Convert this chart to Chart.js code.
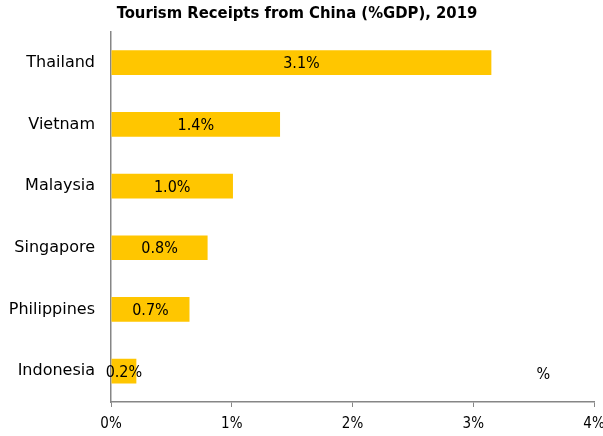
<!DOCTYPE html>
<html>
<head>
<meta charset="utf-8">
<script src="https://cdn.jsdelivr.net/npm/chart.js@4"></script>
<style>
  html, body { margin: 0; padding: 0; background: #fff; }
  #wrap { width: 603px; height: 436px; }
</style>
</head>
<body>
<div id="wrap"><canvas id="chart"></canvas></div>
<script>
// chart values
const countries = ["Thailand", "Vietnam", "Malaysia", "Singapore", "Philippines", "Indonesia"];
const receipts = [3.15, 1.4, 1.01, 0.8, 0.65, 0.21];
const shownLabels = ["3.1%", "1.4%", "1.0%", "0.8%", "0.7%", "0.2%"];
const tickValues = [0, 1, 2, 3, 4];

const NARROW = "'DejaVu Sans Condensed', 'DejaVu Sans', sans-serif";
const WIDE = "'DejaVu Sans', sans-serif";

// draws the value text in the middle of each bar, and the lone "%" note
const barText = {
  id: "barText",
  afterDatasetsDraw(chart) {
    const ctx = chart.ctx;
    const meta = chart.getDatasetMeta(0);
    ctx.save();
    ctx.font = "16px " + NARROW;
    ctx.fillStyle = "#000";
    ctx.textAlign = "center";
    ctx.textBaseline = "middle";
    meta.data.forEach(function(bar, i) {
      const mid = (bar.x + bar.base) / 2;
      ctx.fillText(shownLabels[i], mid, bar.y + 1.5);
    });
    const xs = chart.scales.x, ys = chart.scales.y;
    ctx.fillText("%", xs.getPixelForValue(3.58), ys.getPixelForValue(5) + 4);
    ctx.restore();
  }
};

new Chart(document.getElementById("chart"), {
  type: "bar",
  data: {
    labels: countries,
    datasets: [{
      data: receipts,
      backgroundColor: "#FFC600",
      borderWidth: 0,
      categoryPercentage: 1,
      barPercentage: 0.4
    }]
  },
  options: {
    indexAxis: "y",
    responsive: true,
    maintainAspectRatio: false,
    animation: false,
    layout: { padding: { left: 0, right: 9, top: 0, bottom: 0 } },
    plugins: {
      legend: { display: false },
      tooltip: { enabled: false },
      title: {
        display: true,
        text: "Tourism Receipts from China (%GDP), 2019",
        color: "#000",
        font: { family: NARROW, size: 16.5, weight: "bold" },
        padding: { top: 4, bottom: 8 }
      }
    },
    scales: {
      x: {
        min: 0,
        max: 4,
        afterBuildTicks(axis) {
          axis.ticks = tickValues.map(v => ({ value: v }));
        },
        afterFit(axis) {
          axis.height = 34;
          axis.paddingLeft = 0;
          axis.paddingRight = 0;
        },
        grid: {
          display: true,
          drawOnChartArea: false,
          drawTicks: true,
          tickLength: 5,
          color: "#868686"
        },
        border: { color: "#868686", width: 1.5 },
        ticks: {
          color: "#000",
          padding: 8,
          font: { family: NARROW, size: 15 },
          callback: v => v + "%"
        }
      },
      y: {
        afterFit(axis) { axis.width = 111; },
        grid: { display: false, drawTicks: false },
        border: { color: "#868686", width: 1.5 },
        ticks: {
          color: "#000",
          padding: 16,
          font: { family: WIDE, size: 16 }
        }
      }
    }
  },
  plugins: [barText]
});
</script>
</body>
</html>
